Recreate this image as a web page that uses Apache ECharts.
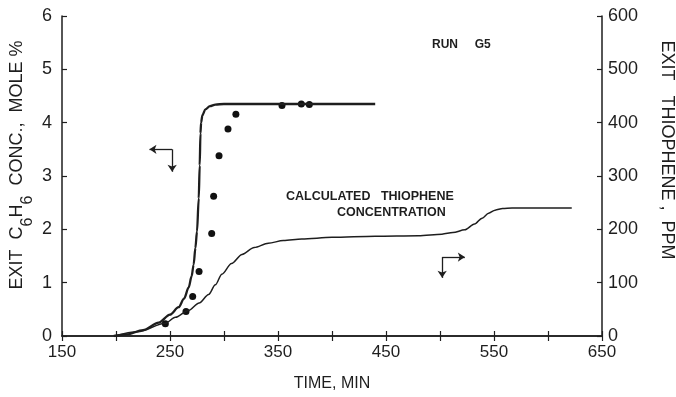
<!DOCTYPE html>
<html>
<head>
<meta charset="utf-8">
<script src="https://cdn.jsdelivr.net/npm/echarts@6/dist/echarts.min.js"></script>
<style>
html,body{margin:0;padding:0;background:#fff;}
#chart{width:676px;height:397px;}
</style>
</head>
<body>
<div id="chart"></div>
<script>
// thick curve: exit C6H6, mole % (left axis)
var benzeneTime = [198, 210, 225, 239.5, 250, 258, 263, 267.3, 270, 271.9, 273.5, 275, 276.6, 277.5, 278.2, 278.8, 280, 282.7, 287, 292, 300, 440];
var benzeneVal  = [0, 0.03, 0.11, 0.25, 0.4, 0.54, 0.7, 0.91, 1.12, 1.34, 1.65, 1.96, 2.58, 3.2, 3.8, 4.0, 4.14, 4.25, 4.31, 4.34, 4.35, 4.35];

// measured points, mole %
var dotTime = [245.7, 264.8, 271, 276.9, 288.6, 290.4, 295.4, 303.7, 311, 353.7, 371.6, 379];
var dotVal  = [0.23, 0.46, 0.74, 1.21, 1.92, 2.62, 3.38, 3.88, 4.16, 4.32, 4.35, 4.34];

// thin curve: calculated thiophene, ppm (right axis)
var thioTime = [198, 220, 245.7, 255, 267, 277, 285.8, 292, 298, 307, 316.7, 328, 341, 355, 372, 400, 440, 480, 501.8, 512, 523, 532, 539, 545, 551, 558, 566.7, 622];
var thioVal  = [0, 8, 24, 35, 48, 62, 78, 96, 116, 136, 153, 166, 174, 179, 182, 185, 187, 188, 191, 194, 199, 210, 221, 230, 236, 239, 240, 240];

// axis-pointer arrows (data coords)
var leftArrowCorner = [252, 3.5], leftArrowH = [231, 3.5], leftArrowV = [252, 3.08];
var rightArrowCorner = [502, 148], rightArrowH = [523, 148], rightArrowV = [502, 109];

function pairs(xs, ys){
	var out = [];
	for(var i = 0;i<xs.length;i++){
		out.push([xs[i], ys[i]]);
	}
	return out;
}

var ink = '#1e1e1e';
var font = 'Liberation Sans';

var chart = echarts.init(document.getElementById('chart'));
var option = {
	animation : false,
	backgroundColor : '#fff',
	grid : {
		left : 62,
		right : 74,
		top : 16,
		bottom : 58
	},
	xAxis : [{
		type : 'value',
		min : 150,
		max : 650,
		interval : 50,
		name : 'TIME, MIN',
		nameLocation : 'middle',
		nameGap : 40,
		nameTextStyle : { color : ink, fontSize : 16, fontFamily : font },
		axisLine : { lineStyle : { color : ink, width : 1.5 } },
		axisTick : { inside : true, length : 5, lineStyle : { color : ink, width : 1.2 } },
		axisLabel : {
			color : ink, fontSize : 17, fontFamily : font, margin : 8,
			formatter : function(v){ return (v - 150) % 100 === 0 ? String(v) : ''; }
		},
		splitLine : { show : false }
	},{
		type : 'value',
		position : 'top',
		min : 150,
		max : 650,
		interval : 50,
		axisLine : { lineStyle : { color : ink, width : 1.5 } },
		axisTick : { inside : true, length : 5, lineStyle : { color : ink, width : 1.2 } },
		axisLabel : { show : false },
		splitLine : { show : false }
	}],
	yAxis : [{
		type : 'value',
		min : 0,
		max : 6,
		interval : 1,
		axisLine : { show : true, lineStyle : { color : ink, width : 1.5 } },
		axisTick : { show : true, inside : true, length : 5, lineStyle : { color : ink, width : 1.2 } },
		axisLabel : { color : ink, fontSize : 18, fontFamily : font, margin : 10 },
		splitLine : { show : false }
	},{
		type : 'value',
		position : 'right',
		min : 0,
		max : 600,
		interval : 100,
		axisLine : { show : true, lineStyle : { color : ink, width : 1.5 } },
		axisTick : { show : true, inside : true, length : 5, lineStyle : { color : ink, width : 1.2 } },
		axisLabel : { color : ink, fontSize : 18, fontFamily : font, margin : 6 },
		splitLine : { show : false }
	}],
	graphic : [{
		type : 'text',
		x : 17, y : 165,
		rotation : Math.PI / 2,
		style : {
			text : 'EXIT  C{s|6}H{s|6}  CONC.,  MOLE %',
			fill : ink,
			font : '18px "Liberation Sans"',
			align : 'center',
			verticalAlign : 'middle',
			rich : { s : { fontSize : 16, fontFamily : font, fill : ink, padding : [22, 0, 0, 0] } }
		}
	},{
		type : 'text',
		x : 667, y : 150,
		rotation : -Math.PI / 2,
		style : {
			text : 'EXIT   THIOPHENE ,  PPM',
			fill : ink,
			font : '18px "Liberation Sans"',
			align : 'center',
			verticalAlign : 'middle'
		}
	},{
		type : 'text',
		x : 432, y : 45,
		style : { text : 'RUN     G5', fill : ink, font : 'bold 12px "Liberation Sans"', align : 'left', verticalAlign : 'middle' }
	},{
		type : 'text',
		x : 286, y : 197,
		style : { text : 'CALCULATED   THIOPHENE', fill : ink, font : 'bold 12.5px "Liberation Sans"', align : 'left', verticalAlign : 'middle' }
	},{
		type : 'text',
		x : 337, y : 213,
		style : { text : 'CONCENTRATION', fill : ink, font : 'bold 12.5px "Liberation Sans"', align : 'left', verticalAlign : 'middle' }
	}],
	series : [{
		type : 'line',
		name : 'C6H6 calc',
		xAxisIndex : 0,
		yAxisIndex : 0,
		symbol : 'none',
		smooth : 0.3,
		smoothMonotone : 'x',
		lineStyle : { color : ink, width : 2.3 },
		data : pairs(benzeneTime, benzeneVal)
	},{
		type : 'line',
		name : 'thiophene',
		xAxisIndex : 0,
		yAxisIndex : 1,
		symbol : 'none',
		smooth : 0.3,
		smoothMonotone : 'x',
		lineStyle : { color : ink, width : 1.5 },
		data : pairs(thioTime, thioVal),
		markLine : {
			silent : true,
			symbol : ['none', 'arrow'],
			symbolSize : 7,
			label : { show : false },
			lineStyle : { color : ink, width : 1.3, type : 'solid' },
			data : [
				[{ coord : rightArrowCorner }, { coord : rightArrowH }],
				[{ coord : rightArrowCorner }, { coord : rightArrowV }]
			]
		}
	},{
		type : 'scatter',
		name : 'C6H6 measured',
		xAxisIndex : 0,
		yAxisIndex : 0,
		symbol : 'circle',
		symbolSize : 7,
		itemStyle : { color : '#111', opacity : 1 },
		data : pairs(dotTime, dotVal),
		markLine : {
			silent : true,
			symbol : ['none', 'arrow'],
			symbolSize : 7,
			label : { show : false },
			lineStyle : { color : ink, width : 1.3, type : 'solid' },
			data : [
				[{ coord : leftArrowCorner }, { coord : leftArrowH }],
				[{ coord : leftArrowCorner }, { coord : leftArrowV }]
			]
		}
	}]
};
chart.setOption(option);
</script>
</body>
</html>
